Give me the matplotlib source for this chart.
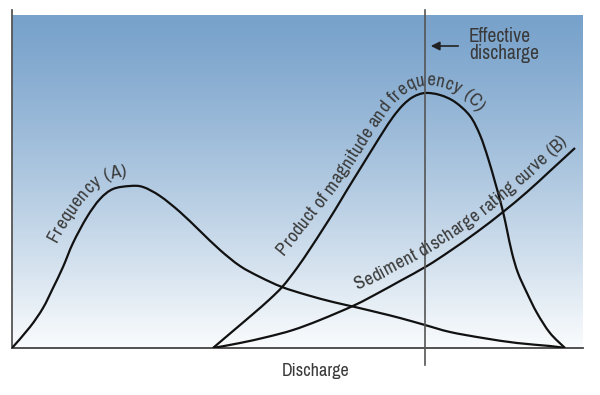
import numpy as np
import matplotlib
matplotlib.use("Agg")
import matplotlib.pyplot as plt
from matplotlib.font_manager import FontProperties
from matplotlib.transforms import IdentityTransform
from matplotlib.path import Path
from matplotlib.patches import PathPatch

# curves (x = discharge, y = relative value)
freq_x = [0, 18, 31, 41, 51, 61, 75, 88, 101, 118, 131, 148, 168, 188, 208, 228, 248,
          270, 295, 321, 343, 368, 388, 413, 438, 471, 505, 538, 553]
freq_y = [0, 21, 40, 60, 81, 105, 131, 149, 159, 162, 161, 152, 136, 117, 98, 82, 71,
          61, 53, 46, 41, 35, 30, 23, 16, 10, 5, 2, 0]

prod_x = [201, 221, 241, 258, 271, 285, 298, 311, 323, 335, 348, 361, 371, 381, 391, 401,
          413, 428, 443, 458, 468, 476, 483, 488, 492, 495, 500, 506, 515, 525, 538, 553]
prod_y = [0, 17, 34, 49, 62, 80, 99, 119, 138, 158, 179, 200, 216, 231, 243, 251,
          255, 253, 246, 232, 213, 190, 166, 148, 132, 118, 95, 75, 55, 35, 15, 0]

sed_x = [201, 228, 255, 281, 308, 343, 368, 388, 415, 438, 465, 491, 515, 538, 563]
sed_y = [0, 5, 11, 18, 28, 43, 56, 67, 82, 97, 116, 136, 156, 177, 200]

effective_x = 413

label_a = "Frequency (A)"
label_c = "Product of magnitude and frequency (C)"
label_b = "Sediment discharge rating curve (B)"

FONT = ["Archivo Narrow", "DejaVu Sans"]
TXT = "#3a3a3a"

fig = plt.figure(figsize=(6, 3.95), dpi=100)
ax = fig.add_axes([12 / 600, 47 / 395, 571 / 600, 338 / 395])
ax.set_xlim(0, 571)
ax.set_ylim(0, 338)

# blue-to-white background
top = np.array([120, 162, 203]) / 255
bot = np.array([250, 252, 253]) / 255
t = np.linspace(0, 1, 256) ** 1.2
grad = top[None, :] * (1 - t[:, None]) + bot[None, :] * t[:, None]
ax.imshow(grad[:, None, :], extent=[0, 571, 0, 333], aspect="auto", origin="upper", zorder=0)

for s in ["top", "right"]:
    ax.spines[s].set_visible(False)
ax.spines["left"].set_color("#555555")
ax.spines["left"].set_linewidth(1.3)
ax.spines["bottom"].set_color("#444444")
ax.spines["bottom"].set_linewidth(1.3)
ax.set_xticks([])
ax.set_yticks([])


def smooth_path(xs, ys):
    # Catmull-Rom through the read points, drawn as cubic Beziers
    p = np.column_stack([xs, ys]).astype(float)
    verts = [p[0]]
    codes = [Path.MOVETO]
    for i in range(len(p) - 1):
        p0 = p[max(i - 1, 0)]
        p1, p2 = p[i], p[i + 1]
        p3 = p[min(i + 2, len(p) - 1)]
        verts += [p1 + (p2 - p0) / 6, p2 - (p3 - p1) / 6, p2]
        codes += [Path.CURVE4] * 3
    return Path(verts, codes)


paths = {}
for key, xs, ys in [("a", freq_x, freq_y), ("c", prod_x, prod_y), ("b", sed_x, sed_y)]:
    paths[key] = smooth_path(xs, ys)
    ax.add_patch(PathPatch(paths[key], fill=False, edgecolor="#111111", lw=1.6, zorder=3))

ax.plot([effective_x, effective_x], [-17, 338], color="#555555", lw=1.2, clip_on=False, zorder=4)

ax.annotate("", xy=(416, 302), xytext=(449, 302),
            arrowprops=dict(arrowstyle="-|>", color="#222222", lw=1.2, mutation_scale=13))
ax.text(457, 303, "Effective\ndischarge", family=FONT, fontsize=14, color=TXT,
        va="center", ha="left", linespacing=0.88)

fig.text(316 / 600, 1 - 371 / 395, "Discharge", family=FONT, fontsize=13,
         color=TXT, ha="center", va="center")

renderer = fig.canvas.get_renderer()


def curve_text(path, text, start, offsets, size, track=0.0):
    pts = ax.transData.transform_path(path).to_polygons(closed_only=False)[0]
    d = np.gradient(pts, axis=0)
    d /= np.hypot(d[:, 0], d[:, 1])[:, None]
    cum0 = np.concatenate([[0], np.cumsum(np.hypot(*np.diff(pts, axis=0).T))])
    fp = FontProperties(family=FONT, size=size)
    total = renderer.get_text_width_height_descent(text, fp, ismath=False)[0]
    total += track * len(text)
    # offset from the curve changes gently along the label
    frac = np.clip((cum0 - start) / total, 0, 1)
    off_d = np.interp(frac, np.linspace(0, 1, len(offsets)), offsets)
    off = pts + off_d[:, None] * np.column_stack([-d[:, 1], d[:, 0]])
    cum = np.concatenate([[0], np.cumsum(np.hypot(*np.diff(off, axis=0).T))])
    s0 = np.interp(start, cum0, cum)
    for i, ch in enumerate(text):
        if ch == " ":
            continue
        w_pre = renderer.get_text_width_height_descent(text[:i + 1], fp, ismath=False)[0]
        w_ch = renderer.get_text_width_height_descent(ch, fp, ismath=False)[0]
        s = s0 + w_pre - w_ch / 2 + track * i
        x, y = np.interp(s, cum, off[:, 0]), np.interp(s, cum, off[:, 1])
        dx = np.interp(s + 3, cum, off[:, 0]) - np.interp(s - 3, cum, off[:, 0])
        dy = np.interp(s + 3, cum, off[:, 1]) - np.interp(s - 3, cum, off[:, 1])
        ax.text(x, y, ch, transform=IdentityTransform(),
                rotation=np.degrees(np.arctan2(dy, dx)), rotation_mode="anchor",
                ha="center", va="baseline", fontproperties=fp, color=TXT, zorder=5)


curve_text(paths["a"], label_a, 116, [15, 11, 9], 13.5, 0.3)
curve_text(paths["c"], label_c, 119, [18, 9, 7, 9], 13.5, 0.3)
curve_text(paths["b"], label_b, 158, [12, 9, 9], 13.5, 0.3)

fig.savefig("out.png", dpi=100)
